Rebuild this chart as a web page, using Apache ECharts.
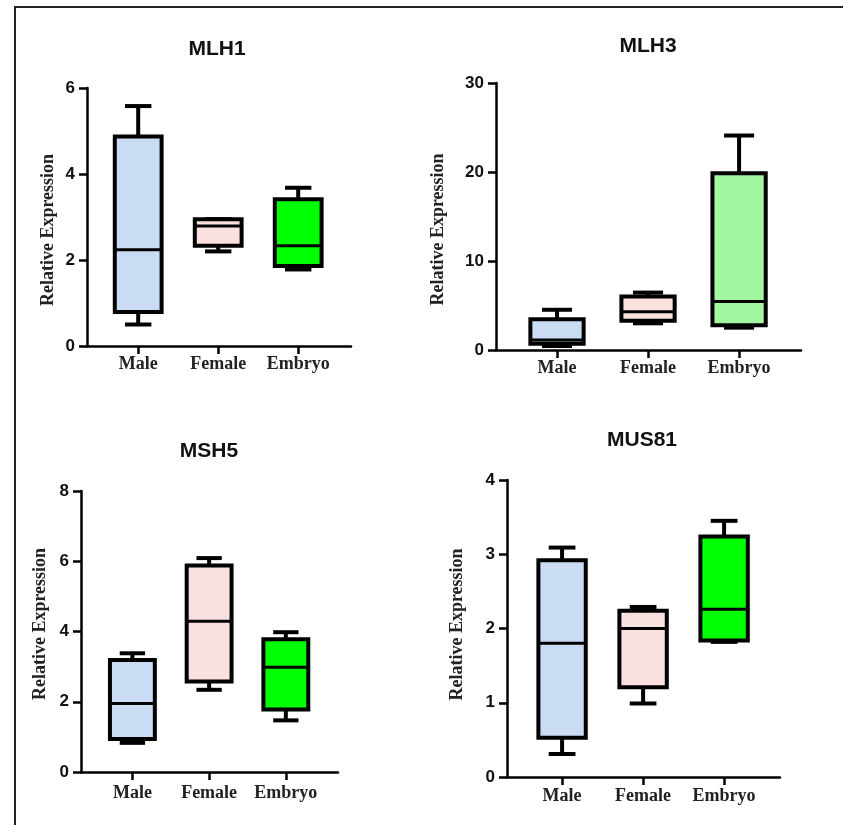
<!DOCTYPE html>
<html>
<head>
<meta charset="utf-8">
<script src="https://cdn.jsdelivr.net/npm/echarts@6/dist/echarts.min.js"></script>
<style>
html,body{margin:0;padding:0;background:#fff;}
#wrap{position:relative;width:843px;height:825px;}
#c{position:absolute;left:0;top:0;width:843px;height:825px;}
#frame{position:absolute;left:14px;top:6px;right:0;bottom:0;border-left:2px solid #222;border-top:2px solid #222;pointer-events:none;}
</style>
</head>
<body>
<div id="wrap"><div id="c"></div><div id="frame"></div></div>
<script>
// ---- data ----
const categories = ['Male', 'Female', 'Embryo'];
const genes = ['MLH1', 'MLH3', 'MSH5', 'MUS81'];
// each row: [min, Q1, median, Q3, max] for Male, Female, Embryo
const mlh1 = [[0.50, 0.79, 2.24, 4.87, 5.58], [2.20, 2.33, 2.79, 2.95, 2.95], [1.78, 1.86, 2.33, 3.41, 3.68]];
const mlh3 = [[0.45, 0.70, 1.12, 3.45, 4.52], [3.00, 3.30, 4.31, 6.00, 6.45], [2.51, 2.78, 5.44, 19.85, 24.1]];
const msh5 = [[0.83, 0.94, 1.95, 3.19, 3.38], [2.34, 2.58, 4.29, 5.88, 6.09], [1.47, 1.78, 2.98, 3.78, 3.98]];
const mus81 = [[0.31, 0.53, 1.80, 2.92, 3.09], [0.99, 1.21, 2.00, 2.24, 2.29], [1.82, 1.84, 2.26, 3.24, 3.45]];
const yMax = [6, 30, 8, 4];
const yStep = [2, 10, 2, 1];
const yName = 'Relative Expression';

// ---- styles / layout ----
const seriesData = [mlh1, mlh3, msh5, mus81];
const fills = [
  ['#c9dcf4', '#fbe0e0', '#00ff00'],
  ['#c9dcf4', '#fbe0e0', '#a3f7a0'],
  ['#c9dcf4', '#fbe0e0', '#00ff00'],
  ['#c9dcf4', '#fbe0e0', '#00ff00']
];
const panels = [
  {grid: {left: 87, top: 88, width: 264, height: 258}, x: [-0.64, 2.66], title: [217, 39], nameGap: 30, namePad: [0, 26, 0, 0], labelMargin: 9},
  {grid: {left: 496, top: 83, width: 305, height: 267}, x: [-0.67, 2.68], title: [648, 36], nameGap: 49, namePad: [0, 26, 0, 0], labelMargin: 9},
  {grid: {left: 81, top: 491, width: 257, height: 281}, x: [-0.67, 2.68], title: [209, 441], nameGap: 32, namePad: [0, 0, 0, 15], labelMargin: 12},
  {grid: {left: 507, top: 480, width: 273, height: 297}, x: [-0.68, 2.69], title: [642, 430], nameGap: 41, namePad: [0, 0, 0, 8], labelMargin: 10}
];
const BOX_W = 0.585, CAP_W = 0.33, LW = 4;

function makeRender(fillArr) {
  return function (params, api) {
    const x = api.value(0);
    const v = [1, 2, 3, 4, 5].map(i => api.value(i));
    const half = api.size([BOX_W, 0])[0] / 2;
    const capHalf = api.size([CAP_W, 0])[0] / 2;
    const cx = api.coord([x, v[2]])[0];
    const y = v.map(val => api.coord([x, val])[1]);
    const st = {stroke: '#000', lineWidth: LW};
    return {
      type: 'group',
      children: [
        {type: 'line', shape: {x1: cx, y1: y[0], x2: cx, y2: y[1]}, style: st},
        {type: 'line', shape: {x1: cx, y1: y[3], x2: cx, y2: y[4]}, style: st},
        {type: 'line', shape: {x1: cx - capHalf, y1: y[0], x2: cx + capHalf, y2: y[0]}, style: st},
        {type: 'line', shape: {x1: cx - capHalf, y1: y[4], x2: cx + capHalf, y2: y[4]}, style: st},
        {type: 'rect', shape: {x: cx - half, y: y[3], width: 2 * half, height: y[1] - y[3]},
          style: {fill: fillArr[params.dataIndex], stroke: '#000', lineWidth: LW}},
        {type: 'line', shape: {x1: cx - half, y1: y[2], x2: cx + half, y2: y[2]}, style: {stroke: '#000', lineWidth: 3}}
      ]
    };
  };
}

const axisLine = {show: true, onZero: false, lineStyle: {color: '#000', width: 2.5}};
const option = {
  backgroundColor: '#fff',
  animation: false,
  title: panels.map((p, i) => ({
    text: genes[i], left: p.title[0], top: p.title[1], textAlign: 'center', padding: 0,
    textStyle: {fontFamily: 'Liberation Sans, Arial, sans-serif', fontWeight: 'bold', fontSize: 21, color: '#111'}
  })),
  grid: panels.map(p => Object.assign({containLabel: false}, p.grid)),
  xAxis: panels.map((p, i) => ({
    type: 'value', gridIndex: i, min: p.x[0], max: p.x[1],
    axisLine: axisLine,
    axisTick: {show: true, customValues: [0, 1, 2], length: 8, lineStyle: {color: '#000', width: 2.5}},
    axisLabel: {show: true, customValues: [0, 1, 2], margin: p.labelMargin,
      formatter: v => categories[Math.round(v)] || '',
      fontFamily: 'Liberation Serif, Times New Roman, serif', fontWeight: 'bold', fontSize: 18, color: '#222'},
    splitLine: {show: false}
  })),
  yAxis: panels.map((p, i) => ({
    type: 'value', gridIndex: i, min: 0, max: yMax[i], interval: yStep[i],
    name: yName, nameLocation: 'middle', nameGap: p.nameGap, nameRotate: 90,
    nameTextStyle: {fontFamily: 'Liberation Serif, Times New Roman, serif', fontWeight: 'bold', fontSize: 18, color: '#222', padding: p.namePad},
    axisLine: axisLine,
    axisTick: {show: true, length: 8, lineStyle: {color: '#000', width: 2.5}},
    axisLabel: {margin: 12, fontFamily: 'Liberation Sans, Arial, sans-serif', fontWeight: 'bold', fontSize: 17, color: '#111'},
    splitLine: {show: false}
  })),
  series: seriesData.map((d, i) => ({
    type: 'custom', xAxisIndex: i, yAxisIndex: i,
    renderItem: makeRender(fills[i]),
    encode: {x: 0, y: [1, 2, 3, 4, 5]},
    data: d.map((row, k) => [k].concat(row))
  }))
};
const chart = echarts.init(document.getElementById('c'), null, {renderer: 'canvas'});
chart.setOption(option);
</script>
</body>
</html>
